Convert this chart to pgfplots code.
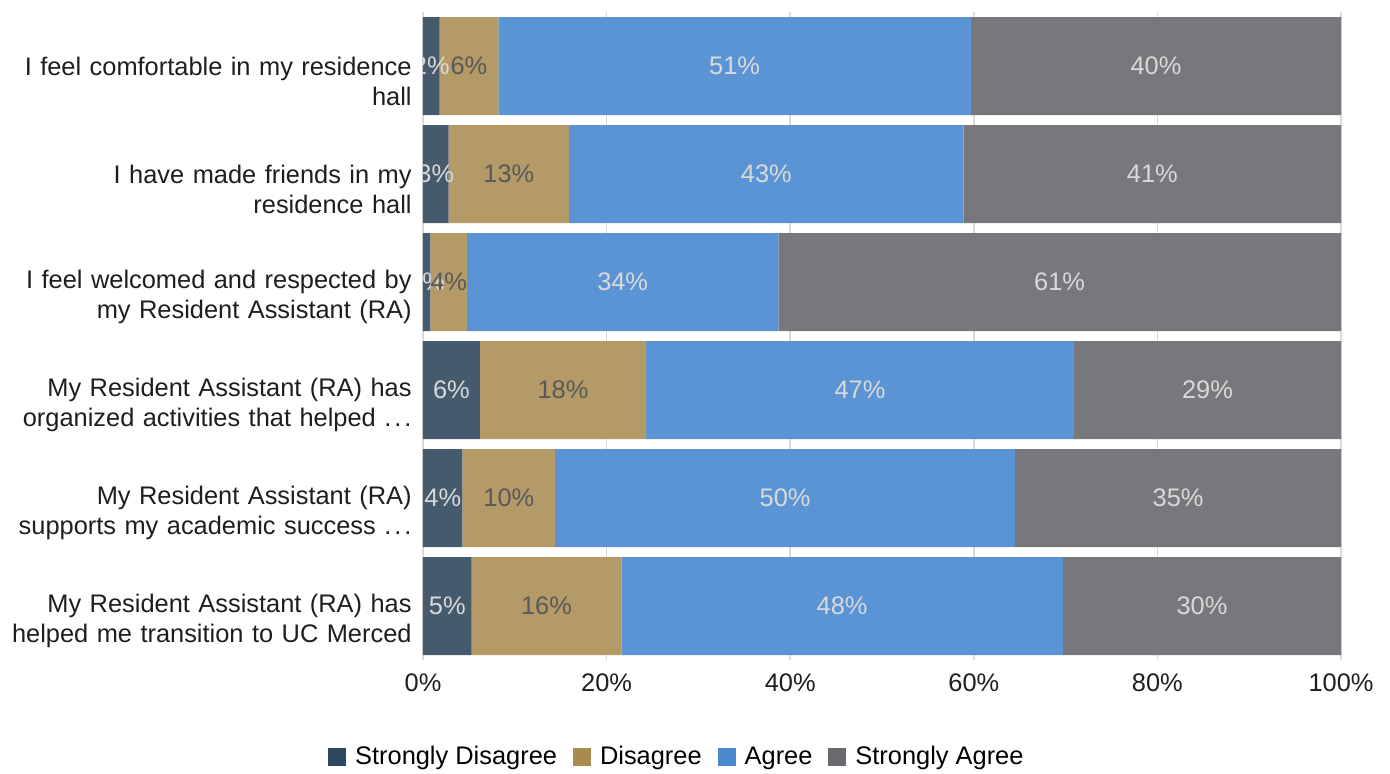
\documentclass[border=0pt]{standalone}
\usepackage{pgfplots}
\pgfplotsset{compat=1.18}
\usepackage{fontspec}
\setmainfont{Liberation Sans}
\definecolor{cSD}{HTML}{465A6E}
\definecolor{cD}{HTML}{B39A66}
\definecolor{cA}{HTML}{5B94D4}
\definecolor{cSA}{HTML}{78787C}
\definecolor{lSD}{HTML}{2E4760}
\definecolor{lD}{HTML}{A98A4F}
\definecolor{lA}{HTML}{4A89D0}
\definecolor{lSA}{HTML}{6A6A6E}
\definecolor{gridc}{HTML}{D9D9D9}
\definecolor{txt}{HTML}{1E1E1E}
\definecolor{lbllight}{HTML}{D9D9D9}
\definecolor{lbldark}{HTML}{595959}
\newcommand{\dd}{.\kern0.12em.\kern0.12em.}
\newcommand{\fs}{\fontsize{12.7}{15}\selectfont}
\begin{document}
\begin{tikzpicture}
\useasboundingbox (-211.5pt,-56.5pt) rectangle (483.5pt,330pt);
\pgfplotsset{
  common/.style={
    at={(0pt,0pt)}, anchor=south west,
    scale only axis, width=459pt, height=324pt,
    xmin=0, xmax=100, ymin=-0.5, ymax=5.5, y dir=reverse,
  }
}
\begin{axis}[common,
  xbar stacked, bar width=49pt,
  axis line style={draw=none},
  xtick={0,20,40,60,80,100},
  xticklabel={\pgfmathprintnumber{\tick}\%},
  /pgf/number format/assume math mode=true,
  xticklabel style={font=\fs, text=txt, yshift=-3.5pt},
  xmajorgrids, grid style={gridc, line width=0.8pt},
  major tick length=0pt,
  ytick={0,1,2,3,4,5},
  yticklabels={
    {I feel comfortable in my residence\\hall},
    {I have made friends in my\\residence hall},
    {I feel welcomed and respected by\\my Resident Assistant (RA)},
    {My Resident Assistant (RA) has\\organized activities that helped \dd},
    {My Resident Assistant (RA)\\supports my academic success \dd},
    {My Resident Assistant (RA) has\\helped me transition to UC Merced}},
  yticklabel style={font=\fs, text=txt, align=right, text width=210pt, inner xsep=0pt, xshift=-5.5pt, yshift=-7.5pt},
  legend style={at={(axis description cs:0.2776,-0.1497)}, anchor=center, draw=none, fill=none,
    legend columns=-1, font=\fs,
    /tikz/every odd column/.append style={column sep=2.5pt},
    /tikz/every even column/.append style={column sep=6pt}},
  legend cell align=left,
]
\addplot[fill=cSD, draw=none, legend image code/.code={\fill[lSD] (0pt,-4.5pt) rectangle (9pt,4.5pt);}] coordinates {(1.8,0) (2.8,1) (0.8,2) (6.2,3) (4.3,4) (5.3,5)};
\addplot[fill=cD, draw=none, legend image code/.code={\fill[lD] (0pt,-4.5pt) rectangle (9pt,4.5pt);}] coordinates {(6.4,0) (13.1,1) (4.0,2) (18.1,3) (10.1,4) (16.3,5)};
\addplot[fill=cA, draw=none, legend image code/.code={\fill[lA] (0pt,-4.5pt) rectangle (9pt,4.5pt);}] coordinates {(51.5,0) (43.0,1) (33.9,2) (46.6,3) (50.1,4) (48.1,5)};
\addplot[fill=cSA, draw=none, legend image code/.code={\fill[lSA] (0pt,-4.5pt) rectangle (9pt,4.5pt);}] coordinates {(40.3,0) (41.1,1) (61.3,2) (29.1,3) (35.5,4) (30.3,5)};
\legend{Strongly Disagree, Disagree, Agree, Strongly Agree}
\draw[gridc, line width=0.8pt] (axis cs:0,-0.5) -- (axis cs:0,5.5);
\end{axis}
\begin{scope}
\clip (0pt,0pt) rectangle (459pt,324pt);
\begin{axis}[common, hide axis]
\addplot[only marks, mark=none, point meta=explicit symbolic, nodes near coords,
  nodes near coords style={anchor=center, font=\fs, text=lbllight}]
  coordinates {
  (0.9,0) [2\%] (1.4,1) [3\%] (0.4,2) [1\%] (3.1,3) [6\%] (2.15,4) [4\%] (2.65,5) [5\%]
  (33.95,0) [51\%] (37.4,1) [43\%] (21.75,2) [34\%] (47.6,3) [47\%] (39.45,4) [50\%] (45.65,5) [48\%]
  (79.85,0) [40\%] (79.45,1) [41\%] (69.35,2) [61\%] (85.45,3) [29\%] (82.25,4) [35\%] (84.85,5) [30\%]
  };
\addplot[only marks, mark=none, point meta=explicit symbolic, nodes near coords,
  nodes near coords style={anchor=center, font=\fs, text=lbldark}]
  coordinates {
  (5.0,0) [6\%] (9.35,1) [13\%] (2.8,2) [4\%] (15.25,3) [18\%] (9.35,4) [10\%] (13.45,5) [16\%]
  };
\end{axis}
\end{scope}
\end{tikzpicture}
\end{document}
